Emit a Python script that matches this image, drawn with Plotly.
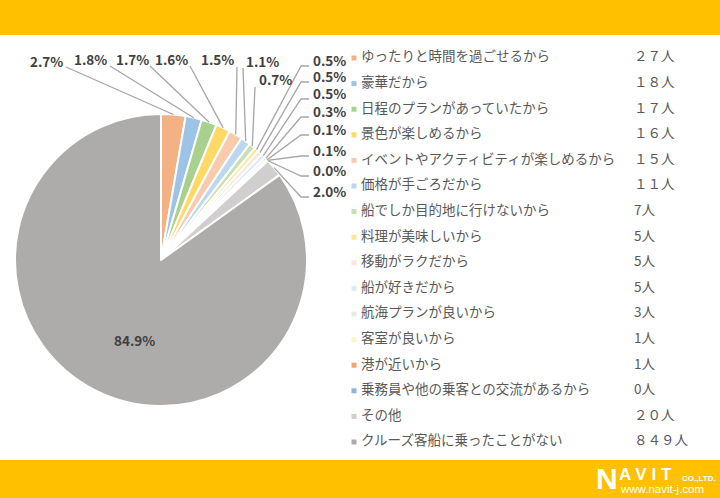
import math
import plotly.graph_objects as go

# ---------------- data ----------------
categories = [
    "ゆったりと時間を過ごせるから", "豪華だから", "日程のプランがあっていたから",
    "景色が楽しめるから", "イベントやアクティビティが楽しめるから", "価格が手ごろだから",
    "船でしか目的地に行けないから", "料理が美味しいから", "移動がラクだから",
    "船が好きだから", "航海プランが良いから", "客室が良いから", "港が近いから",
    "乗務員や他の乗客との交流があるから", "その他", "クルーズ客船に乗ったことがない",
]
counts = [27, 18, 17, 16, 15, 11, 7, 5, 5, 5, 3, 1, 1, 0, 20, 849]
count_labels = ["２７人", "１８人", "１７人", "１６人", "１５人", "１１人", "7人", "5人",
                "5人", "5人", "3人", "1人", "1人", "0人", "２０人", "８４９人"]

# ---------------- styles ----------------
colors = ["#F4B183", "#9DC3E6", "#A9D18E", "#FFD966", "#F8CBAD", "#BDD7EE",
          "#C5E0B4", "#FFE699", "#FBE5D6", "#DEEBF7", "#E2F0D9", "#FFF2CC",
          "#F2A46E", "#8DB4E2", "#D0CECE", "#AEABAB"]
W, H = 720, 498
CX, CY, R = 161, 260, 146
YELLOW = "#FFC000"
LBL_FONT = dict(family="Noto Sans CJK JP", size=13.5, color="#404040")
LEG_FONT = dict(family="Noto Sans CJK JP", size=13.5, color="#595959")

# label layout: top row (text centre x, y, line start x, y)
top_pos = [(46, 61, 66, 67), (90, 59, 110, 66), (132, 59, 150, 66), (171, 59, 190, 66),
           (218, 59, 237, 67), (262, 61, 243, 68), (275, 79, 255, 87)]
right_x = 311
right_y = [60, 76, 93, 111, 129, 150, 170, 191]
big_label = (112, 352)

LEG_Y0, LEG_DY = 58, 25.6


def px(x):
    return x / W


def py(y):
    return 1 - y / H


total = sum(counts)
fig = go.Figure()

fig.add_trace(go.Pie(
    labels=categories, values=counts, sort=False, direction="clockwise", rotation=0,
    marker=dict(colors=colors, line=dict(color="white", width=2)),
    textinfo="none", hoverinfo="label+percent", showlegend=False,
    domain=dict(x=[px(CX - R), px(CX + R)], y=[py(CY + R), py(CY - R)]),
))

# legend drawn through a cartesian scale
idx = list(range(len(categories)))
fig.add_trace(go.Scatter(
    x=[354] * len(idx), y=idx, mode="markers",
    marker=dict(symbol="square", size=5, color=colors), showlegend=False, hoverinfo="skip"))
fig.add_trace(go.Scatter(
    x=[361] * len(idx), y=idx, mode="text", text=categories, textposition="middle right",
    textfont=LEG_FONT, showlegend=False, hoverinfo="skip"))
fig.add_trace(go.Scatter(
    x=[634] * len(idx), y=idx, mode="text", text=count_labels, textposition="middle right",
    textfont=LEG_FONT, showlegend=False, hoverinfo="skip"))

ytop = -LEG_Y0 / LEG_DY
ybot = (H - LEG_Y0) / LEG_DY
fig.update_xaxes(range=[0, W], visible=False, fixedrange=True, domain=[0, 1])
fig.update_yaxes(range=[ybot, ytop], visible=False, fixedrange=True, domain=[0, 1])

# anchors on the pie
anchors = []
cum = 0
for v in counts:
    mid = (cum + v / 2) / total * 2 * math.pi
    anchors.append((CX + R * math.sin(mid), CY - R * math.cos(mid)))
    cum += v

shapes = [
    dict(type="rect", xref="paper", yref="paper", x0=0, x1=1, y0=py(35), y1=1,
         fillcolor=YELLOW, line=dict(width=0), layer="below"),
    dict(type="rect", xref="paper", yref="paper", x0=0, x1=1, y0=0, y1=py(460),
         fillcolor=YELLOW, line=dict(width=0), layer="below"),
]
annotations = []
LINE = dict(color="#A6A6A6", width=1.3)
pct = [f"{v / total * 100:.1f}%" for v in counts]

for i, (tx, ty, lx, ly) in enumerate(top_pos):
    ax, ay = anchors[i]
    shapes.append(dict(type="line", xref="paper", yref="paper", x0=px(lx), y0=py(ly),
                       x1=px(ax), y1=py(ay), line=LINE))
    annotations.append(dict(x=px(tx), y=py(ty), xref="paper", yref="paper", text=f"<b>{pct[i]}</b>",
                            showarrow=False, font=LBL_FONT, xanchor="center", yanchor="middle"))

for k, yy in enumerate(right_y):
    i = len(top_pos) + k
    ax, ay = anchors[i]
    ey = yy + 6
    shapes.append(dict(type="path", xref="paper", yref="paper",
                       path=f"M {px(ax)} {py(ay)} L {px(301)} {py(ey)} L {px(309)} {py(ey)}",
                       line=LINE))
    annotations.append(dict(x=px(right_x), y=py(yy), xref="paper", yref="paper", text=f"<b>{pct[i]}</b>",
                            showarrow=False, font=LBL_FONT, xanchor="left", yanchor="middle"))

annotations.append(dict(x=px(big_label[0]), y=py(big_label[1]), xref="paper", yref="paper",
                        text=f"<b>{pct[-1]}</b>", showarrow=False, font=LBL_FONT))

# logo
WHITE = "white"
annotations += [
    dict(x=px(595), y=py(478), xref="paper", yref="paper", text="<b>N</b>", showarrow=False,
         xanchor="left", yanchor="middle", borderpad=0,
         font=dict(family="Liberation Sans", size=30, color=WHITE)),
    dict(x=px(618), y=py(474), xref="paper", yref="paper", text="<b>A V I T</b>", showarrow=False,
         xanchor="left", yanchor="middle", borderpad=0,
         font=dict(family="Liberation Sans", size=17, color=WHITE)),
    dict(x=px(681), y=py(478), xref="paper", yref="paper", text="<b>CO.,LTD.</b>", showarrow=False,
         xanchor="left", yanchor="middle", borderpad=0,
         font=dict(family="Liberation Sans", size=8, color=WHITE)),
    dict(x=px(619), y=py(489), xref="paper", yref="paper", text="www.navit-j.com", showarrow=False,
         xanchor="left", yanchor="middle", borderpad=0,
         font=dict(family="Liberation Sans", size=11.5, color=WHITE)),
]

fig.update_layout(
    width=W, height=H, margin=dict(l=0, r=0, t=0, b=0),
    paper_bgcolor="white", plot_bgcolor="rgba(0,0,0,0)",
    shapes=shapes, annotations=annotations, showlegend=False,
)

fig.write_html("out.html", config={"displayModeBar": False},
               post_script="document.body.style.margin='0';document.body.style.overflow='hidden';")
